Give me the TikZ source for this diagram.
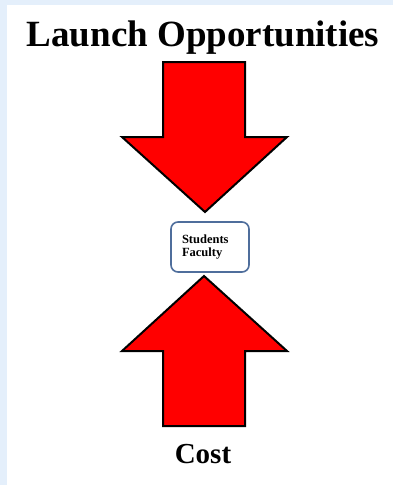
\documentclass[tikz,border=0pt]{standalone}
\usepackage{fontspec}
\setmainfont{Liberation Serif}
\usetikzlibrary{shapes.geometric,shapes.arrows,calc}
\definecolor{bgblue}{HTML}{E4EFFB}
\definecolor{boxline}{HTML}{4F6E9C}
\tikzstyle{title} = [font=\fontsize{37}{40}\selectfont\bfseries, anchor=base, inner sep=0pt]
\tikzstyle{bigarrow} = [draw=black, line width=2pt, fill=red, line join=miter]
\tikzstyle{who} = [rectangle, rounded corners=7pt, draw=boxline, line width=1.6pt, fill=white, text width=56pt, inner xsep=11pt, minimum height=50pt, align=left, font=\fontsize{12.5}{12.5}\selectfont\bfseries]

\begin{document}
\begin{tikzpicture}[x=1pt,y=-1pt]
  \useasboundingbox (0,0) rectangle (393,485);
  \fill[bgblue] (0,0) rectangle (393,485);
  \fill[white] (7,5) rectangle (393,485);
  \node (launch)[title] at (203,46) {Launch Opportunities};
  \node (cost)[title, font=\fontsize{29}{30}\selectfont\bfseries] at (203,463) {Cost};
  \node (people)[who] at (210,247) {Students\\Faculty};
  \draw[bigarrow] (163,62)--(245,62)--(245,137)--(287,137)--(205,212)--(122,137)--(163,137)--cycle;
  \draw[bigarrow] (163,426)--(245,426)--(245,351)--(287,351)--(204,276)--(122,351)--(163,351)--cycle;
\end{tikzpicture}
\end{document}
